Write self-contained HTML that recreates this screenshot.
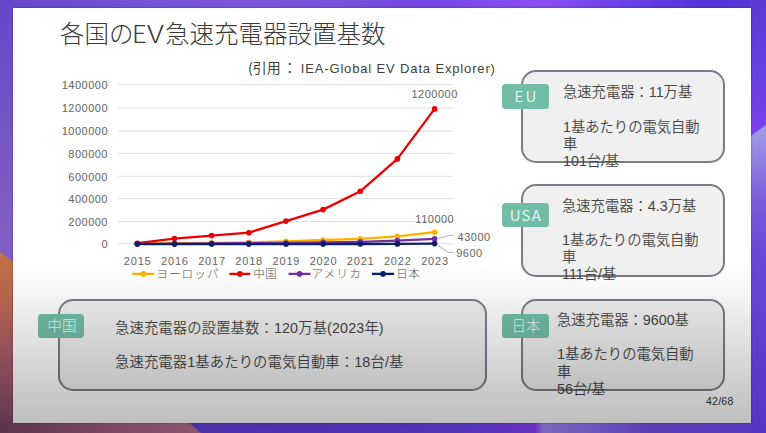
<!DOCTYPE html>
<html lang="ja">
<head>
<meta charset="utf-8">
<style>
html,body{margin:0;padding:0;}
body{width:766px;height:433px;overflow:hidden;position:relative;background:#6a4bcc;font-family:"Liberation Sans","Noto Sans CJK JP",sans-serif;}
.abs{position:absolute;}
#bg1{left:0;top:0;width:766px;height:433px;background:linear-gradient(90deg,#6848c8 0%,#7652d6 20%,#7a52d8 40%,#7346e2 55%,#8a50f2 71%,#7444ea 78%,#5234da 92%,#5838d2 100%);}
#slide{left:13px;top:8px;width:738px;height:414.5px;background:#fff;overflow:hidden;box-shadow:0 0 2px rgba(30,0,80,0.45);}
.jp{font-family:"Liberation Sans","Noto Sans CJK JP",sans-serif;}
#title{left:60px;top:14.5px;font-size:24.5px;line-height:36px;color:#3a3a3a;font-weight:300;white-space:nowrap;font-family:"Noto Sans CJK JP",sans-serif;}
#cite{left:248px;top:58.3px;font-size:13px;line-height:18px;color:#404040;white-space:nowrap;}
.box{position:absolute;border:2px solid #7c7c87;border-radius:15px;background:#f0f0f0;box-sizing:border-box;}
.tag{position:absolute;background:#72bda7;border-radius:3.5px;color:#eef8f3;font-size:15px;text-align:center;font-family:"Noto Sans CJK JP DemiLight","Noto Sans CJK JP",sans-serif;}
.txt{position:absolute;font-size:14.3px;line-height:17.2px;color:#444444;font-family:"Liberation Sans","Noto Sans CJK JP DemiLight","Noto Sans CJK JP",sans-serif;}
#overlay{left:13px;top:8px;width:738px;height:414.5px;background:linear-gradient(180deg,rgba(0,0,0,0) 0%,rgba(0,0,0,0) 62%,rgba(0,0,0,0.016) 64.9%,rgba(0,0,0,0.047) 69.7%,rgba(0,0,0,0.133) 81.8%,rgba(0,0,0,0.227) 95.8%,rgba(0,0,0,0.25) 100%);}
.cj{font-family:"Noto Sans CJK JP",sans-serif;}
#pg{left:706px;top:394.6px;font-size:10.6px;line-height:12px;color:#303030;letter-spacing:0.2px;}
</style>
</head>
<body>
<div id="bg1" class="abs"></div>
<svg class="abs" style="left:0;top:0" width="766" height="433" viewBox="0 0 766 433">
  <defs>
    <linearGradient id="lp" x1="0" y1="0" x2="0" y2="1"><stop offset="0" stop-color="#6747c9"/><stop offset="0.45" stop-color="#7e5cc4"/><stop offset="1" stop-color="#8d66bf"/></linearGradient>
    <linearGradient id="lo" x1="0" y1="0" x2="0" y2="1"><stop offset="0" stop-color="#c4724a"/><stop offset="0.25" stop-color="#b4644a"/><stop offset="0.55" stop-color="#94505a"/><stop offset="0.85" stop-color="#6e3e52"/><stop offset="1" stop-color="#5a3449"/></linearGradient>
    <linearGradient id="bm" x1="0" y1="0" x2="1" y2="0"><stop offset="0" stop-color="#5c3449"/><stop offset="0.5" stop-color="#7a4660"/><stop offset="1" stop-color="#8c566e"/></linearGradient>
    <linearGradient id="bb" gradientUnits="userSpaceOnUse" x1="188" y1="0" x2="766" y2="0"><stop offset="0" stop-color="#4c31aa"/><stop offset="0.45" stop-color="#5234b6"/><stop offset="0.6" stop-color="#6630c2"/><stop offset="0.615" stop-color="#7a68bc"/><stop offset="0.71" stop-color="#6a56bc"/><stop offset="0.8" stop-color="#5a3eb4"/><stop offset="1" stop-color="#5538c0"/></linearGradient>
    <linearGradient id="rs" gradientUnits="userSpaceOnUse" x1="0" y1="125" x2="0" y2="433"><stop offset="0" stop-color="#a39ee8"/><stop offset="0.11" stop-color="#9282e2"/><stop offset="0.24" stop-color="#7a5ede"/><stop offset="0.4" stop-color="#6a4ad8"/><stop offset="1" stop-color="#5434c2"/></linearGradient><linearGradient id="rt" gradientUnits="userSpaceOnUse" x1="0" y1="0" x2="0" y2="136"><stop offset="0" stop-color="#5a3bd6"/><stop offset="0.6" stop-color="#6a40e4"/><stop offset="1" stop-color="#7c42ee"/></linearGradient>
  </defs>
  <rect x="0" y="0" width="14" height="433" fill="url(#lp)"/>
  <polygon points="0,252.5 14,262.2 14,433 0,433" fill="url(#lo)" />
  <rect x="0" y="422" width="200" height="11" fill="url(#bm)"/>
  <polygon points="188,422 766,422 766,433 201,433" fill="url(#bb)"/>
  <rect x="750" y="120" width="16" height="313" fill="url(#rs)"/><polygon points="750,0 766,0 766,125 750,136.5" fill="url(#rt)"/>
</svg>
<div id="slide" class="abs"></div>

<div id="title" class="abs">各国の<span style="display:inline-block;margin-left:-2px;transform:scaleX(1.05);transform-origin:0 0">E</span><span style="display:inline-block;margin-left:1px;margin-right:5px;transform:scaleX(1.24);transform-origin:0 0">V</span>急速充電器設置基数</div>
<div id="cite" class="abs"><span class="cj" style="font-size:14px">(引<span style="letter-spacing:2px">用</span>：</span><span style="letter-spacing:0.85px;margin-left:4px">IEA-Global EV Data Explorer)</span></div>

<svg class="abs" style="left:0;top:0" width="766" height="433" viewBox="0 0 766 433">
  <g stroke="#e0e0e0" stroke-width="1">
    <line x1="118" y1="84.6" x2="453" y2="84.6"/>
    <line x1="118" y1="108.0" x2="453" y2="108.0"/>
    <line x1="118" y1="131.0" x2="453" y2="131.0"/>
    <line x1="118" y1="153.3" x2="453" y2="153.3"/>
    <line x1="118" y1="176.3" x2="453" y2="176.3"/>
    <line x1="118" y1="198.6" x2="453" y2="198.6"/>
    <line x1="118" y1="221.5" x2="453" y2="221.5"/>
    <line x1="118" y1="243.8" x2="453" y2="243.8"/>
  </g>
  <g font-family="Liberation Sans, sans-serif" font-size="11" fill="#636363" text-anchor="end" letter-spacing="0.5">
    <text x="108" y="88.9">1400000</text>
    <text x="108" y="112.3">1200000</text>
    <text x="108" y="135.3">1000000</text>
    <text x="108" y="157.6">800000</text>
    <text x="108" y="180.6">600000</text>
    <text x="108" y="202.9">400000</text>
    <text x="108" y="225.8">200000</text>
    <text x="108" y="248.1">0</text>
  </g>
  <g font-family="Liberation Sans, sans-serif" font-size="11" fill="#636363" text-anchor="middle" letter-spacing="0.8">
    <text x="137.7" y="264.6">2015</text>
    <text x="174.9" y="264.6">2016</text>
    <text x="212.0" y="264.6">2017</text>
    <text x="249.2" y="264.6">2018</text>
    <text x="286.4" y="264.6">2019</text>
    <text x="323.5" y="264.6">2020</text>
    <text x="360.7" y="264.6">2021</text>
    <text x="397.8" y="264.6">2022</text>
    <text x="435.0" y="264.6">2023</text>
  </g>
  <g id="series"><polyline points="137.3,243.5 174.5,243.2 211.6,242.8 248.8,242.3 286.0,241.3 323.1,240.0 360.3,238.8 397.4,236.4 434.6,232.2" fill="none" stroke="#f7b500" stroke-width="2.3" stroke-linejoin="round"/>
<circle cx="137.3" cy="243.5" r="2.8" fill="#f7b500"/>
<circle cx="174.5" cy="243.2" r="2.8" fill="#f7b500"/>
<circle cx="211.6" cy="242.8" r="2.8" fill="#f7b500"/>
<circle cx="248.8" cy="242.3" r="2.8" fill="#f7b500"/>
<circle cx="286.0" cy="241.3" r="2.8" fill="#f7b500"/>
<circle cx="323.1" cy="240.0" r="2.8" fill="#f7b500"/>
<circle cx="360.3" cy="238.8" r="2.8" fill="#f7b500"/>
<circle cx="397.4" cy="236.4" r="2.8" fill="#f7b500"/>
<circle cx="434.6" cy="232.2" r="2.8" fill="#f7b500"/>
<polyline points="137.3,243.2 174.5,238.6 211.6,235.6 248.8,232.7 286.0,221.1 323.1,209.6 360.3,191.3 397.4,158.9 434.6,108.9" fill="none" stroke="#ee0000" stroke-width="2.3" stroke-linejoin="round"/>
<circle cx="137.3" cy="243.2" r="2.8" fill="#ee0000"/>
<circle cx="174.5" cy="238.6" r="2.8" fill="#ee0000"/>
<circle cx="211.6" cy="235.6" r="2.8" fill="#ee0000"/>
<circle cx="248.8" cy="232.7" r="2.8" fill="#ee0000"/>
<circle cx="286.0" cy="221.1" r="2.8" fill="#ee0000"/>
<circle cx="323.1" cy="209.6" r="2.8" fill="#ee0000"/>
<circle cx="360.3" cy="191.3" r="2.8" fill="#ee0000"/>
<circle cx="397.4" cy="158.9" r="2.8" fill="#ee0000"/>
<circle cx="434.6" cy="108.9" r="2.8" fill="#ee0000"/>
<polyline points="137.3,243.8 174.5,243.6 211.6,243.4 248.8,243.2 286.0,243.0 323.1,242.4 360.3,241.9 397.4,240.6 434.6,238.9" fill="none" stroke="#7030a0" stroke-width="2.3" stroke-linejoin="round"/>
<circle cx="137.3" cy="243.8" r="2.8" fill="#7030a0"/>
<circle cx="174.5" cy="243.6" r="2.8" fill="#7030a0"/>
<circle cx="211.6" cy="243.4" r="2.8" fill="#7030a0"/>
<circle cx="248.8" cy="243.2" r="2.8" fill="#7030a0"/>
<circle cx="286.0" cy="243.0" r="2.8" fill="#7030a0"/>
<circle cx="323.1" cy="242.4" r="2.8" fill="#7030a0"/>
<circle cx="360.3" cy="241.9" r="2.8" fill="#7030a0"/>
<circle cx="397.4" cy="240.6" r="2.8" fill="#7030a0"/>
<circle cx="434.6" cy="238.9" r="2.8" fill="#7030a0"/>
<polyline points="137.3,244.1 174.5,244.1 211.6,244.1 248.8,244.1 286.0,244.1 323.1,244.1 360.3,244.0 397.4,243.9 434.6,243.6" fill="none" stroke="#0c1d6e" stroke-width="2.3" stroke-linejoin="round"/>
<circle cx="137.3" cy="244.1" r="2.8" fill="#0c1d6e"/>
<circle cx="174.5" cy="244.1" r="2.8" fill="#0c1d6e"/>
<circle cx="211.6" cy="244.1" r="2.8" fill="#0c1d6e"/>
<circle cx="248.8" cy="244.1" r="2.8" fill="#0c1d6e"/>
<circle cx="286.0" cy="244.1" r="2.8" fill="#0c1d6e"/>
<circle cx="323.1" cy="244.1" r="2.8" fill="#0c1d6e"/>
<circle cx="360.3" cy="244.0" r="2.8" fill="#0c1d6e"/>
<circle cx="397.4" cy="243.9" r="2.8" fill="#0c1d6e"/>
<circle cx="434.6" cy="243.6" r="2.8" fill="#0c1d6e"/>
<g font-family="Liberation Sans, sans-serif" font-size="11" fill="#636363" letter-spacing="0.5"><text x="434.6" y="97.8" text-anchor="middle">1200000</text><text x="434.8" y="222.5" text-anchor="middle">110000</text><text x="457.6" y="240.6">43000</text><text x="456.2" y="256.9">9600</text></g>
<g stroke="#a6a6a6" stroke-width="0.9" fill="none"><polyline points="437.5,238.6 449.6,235.4 453.2,235.4"/><polyline points="437.5,245.3 448.9,252.4 453.2,252.4"/></g>
<g><line x1="132.3" y1="273.9" x2="154.2" y2="273.9" stroke="#f7b500" stroke-width="2.3"/><circle cx="143.2" cy="273.9" r="2.8" fill="#f7b500"/><text x="156.2" y="278.3" font-family="Noto Sans CJK JP, sans-serif" font-size="11.6" font-weight="300" fill="#555555" letter-spacing="1.1">ヨーロッパ</text><line x1="229.4" y1="273.9" x2="250.3" y2="273.9" stroke="#ee0000" stroke-width="2.3"/><circle cx="239.9" cy="273.9" r="2.8" fill="#ee0000"/><text x="253.2" y="278.3" font-family="Noto Sans CJK JP, sans-serif" font-size="11.6" font-weight="300" fill="#555555" letter-spacing="0.3">中国</text><line x1="288.6" y1="273.9" x2="310.5" y2="273.9" stroke="#7030a0" stroke-width="2.3"/><circle cx="299.6" cy="273.9" r="2.8" fill="#7030a0"/><text x="311.4" y="278.3" font-family="Noto Sans CJK JP, sans-serif" font-size="11.6" font-weight="300" fill="#555555" letter-spacing="1.2">アメリカ</text><line x1="372" y1="273.9" x2="394" y2="273.9" stroke="#0c1d6e" stroke-width="2.3"/><circle cx="383.0" cy="273.9" r="2.8" fill="#0c1d6e"/><text x="396.2" y="278.3" font-family="Noto Sans CJK JP, sans-serif" font-size="11.6" font-weight="300" fill="#555555" letter-spacing="0.4">日本</text></g></g><!--end-series-->
</svg>

<div class="box" style="left:521px;top:70px;width:204px;height:93px;"></div>
<div class="tag" style="left:502px;top:84.3px;width:46.6px;height:24.5px;line-height:23.4px;letter-spacing:2.2px;text-indent:2.2px;">EU</div>
<div class="txt" style="left:563px;top:84.3px;width:142px;">急速充電器：11万基<br><br>1基あたりの電気自動車<br>101台/基</div>

<div class="box" style="left:521px;top:184px;width:204px;height:93px;"></div>
<div class="tag" style="left:502px;top:203.1px;width:46.6px;height:24.4px;line-height:23.4px;letter-spacing:1.2px;text-indent:1.2px;">USA</div>
<div class="txt" style="left:562px;top:197.5px;width:142px;">急速充電器：4.3万基<br><br>1基あたりの電気自動車<br>111台/基</div>

<div class="box" style="left:521px;top:298.5px;width:204px;height:92.3px;"></div>
<div class="tag" style="left:502px;top:313.5px;width:46.6px;height:24.5px;line-height:22.2px;text-indent:1.4px;font-size:14.6px;font-family:'Noto Sans CJK JP',sans-serif;font-weight:300;">日本</div>
<div class="txt" style="left:557px;top:312px;width:142px;">急速充電器：9600基<br><br>1基あたりの電気自動車<br>56台/基</div>

<div class="box" style="left:58px;top:299px;width:428.5px;height:92.4px;"></div>
<div class="tag" style="left:38px;top:313.5px;width:46.4px;height:24.5px;line-height:22.2px;text-indent:1.4px;font-size:14.6px;font-family:'Noto Sans CJK JP',sans-serif;font-weight:300;">中国</div>
<div class="txt" style="left:115px;top:310.7px;width:390px;line-height:34.7px;letter-spacing:0.15px;">急速充電器の設置基数：120万基(2023年)<br>急速充電器1基あたりの電気自動車：18台/基</div>

<div id="pg" class="abs">42/68</div>
<div id="overlay" class="abs"></div>
</body>
</html>
